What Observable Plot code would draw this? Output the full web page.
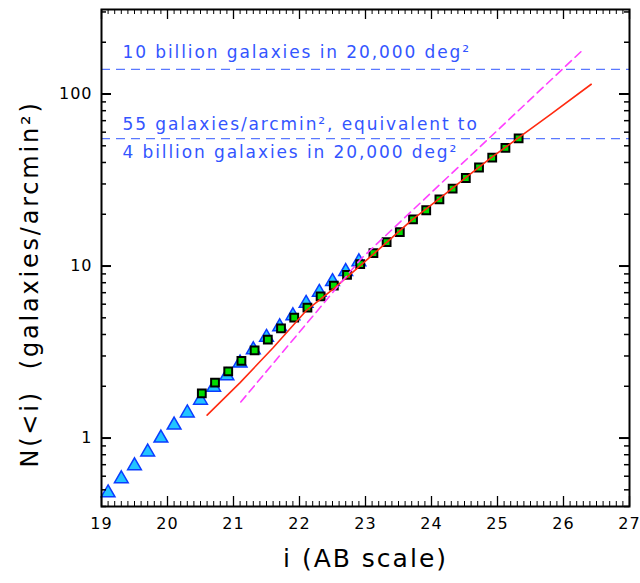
<!DOCTYPE html>
<html>
<head>
<meta charset="utf-8">
<script src="https://cdn.jsdelivr.net/npm/d3@7"></script>
<script src="https://cdn.jsdelivr.net/npm/@observablehq/plot@0.6"></script>
<style>
  html, body { margin: 0; padding: 0; background: #fff; }
  #chart svg { display: block; }
</style>
</head>
<body>
<div id="chart"></div>
<script>
// ---- data ----
const triMag = [19.1, 19.3, 19.5, 19.7, 19.9, 20.1, 20.3, 20.5, 20.7, 20.9,
                21.1, 21.3, 21.5, 21.7, 21.9, 22.1, 22.3, 22.5, 22.7, 22.9];
const triN   = [0.48, 0.58, 0.69, 0.83, 1.0, 1.19, 1.40, 1.66, 1.97, 2.30,
                2.73, 3.26, 3.85, 4.44, 5.14, 6.07, 7.03, 8.12, 9.29, 10.6];

const sqMag = [20.52, 20.72, 20.92, 21.12, 21.32, 21.52, 21.72, 21.92, 22.12, 22.32,
               22.52, 22.72, 22.92, 23.12, 23.32, 23.52, 23.72, 23.92, 24.12, 24.32,
               24.52, 24.72, 24.92, 25.12, 25.32];
const sqN   = [1.82, 2.10, 2.44, 2.81, 3.23, 3.73, 4.34, 5.01, 5.73, 6.67,
               7.70, 8.89, 10.25, 11.9, 13.77, 15.74, 18.7, 21.1, 24.4, 28.2,
               32.5, 37.4, 42.7, 48.6, 55.2];

const redMag = [20.6, 21.1, 21.6, 22.1, 22.5, 22.9, 23.3, 23.7, 24.1, 24.5, 24.9, 25.3, 25.8, 26.42];
const redN   = [1.36, 2.10, 3.35, 5.5, 7.3, 9.9, 13.5, 18.5, 24.3, 32.2, 42.5, 55, 76, 114];

const magMag = [21.11, 22.93, 26.31];
const magN   = [1.62, 11.0, 183];

const refLevels = [138.9, 55];
const refTexts = ["10 billion galaxies in 20,000 deg²",
                  "55 galaxies/arcmin², equivalent to",
                  "4 billion galaxies in 20,000 deg²"];

const xTicks = [19, 20, 21, 22, 23, 24, 25, 26, 27];
const yTicks = [1, 10, 100];
const yMinor = [0.4, 0.5, 0.6, 0.7, 0.8, 0.9, 2, 3, 4, 5, 6, 7, 8, 9,
                20, 30, 40, 50, 60, 70, 80, 90, 200, 300];
const xMinor = d3.range(190, 271).map(d => d / 10).filter(d => !xTicks.includes(d));

const xLabel = "i (AB scale)";
const yLabel = "N(<i)  (galaxies/arcmin²)";

// ---- layout ----
const W = 640, H = 583;
const mL = 101, mR = 11, mT = 9, mB = 77;
const innerH = H - mT - mB, innerW = W - mL - mR;
const majLen = 10, minLen = 5;

const tri = triMag.map((m, i) => ({m, n: triN[i]}));
const sq = sqMag.map((m, i) => ({m, n: sqN[i]}));
const red = redMag.map((m, i) => ({m, n: redN[i]}));
const mag = magMag.map((m, i) => ({m, n: magN[i]}));

const textBlue = "#3355ff";
const font = "DejaVu Sans, sans-serif";

const chart = Plot.plot({
  width: W, height: H,
  marginLeft: mL, marginRight: mR, marginTop: mT, marginBottom: mB,
  style: {fontFamily: font, fontSize: "16px", color: "#000", background: "#fff"},
  x: {domain: [19, 27], axis: null},
  y: {type: "log", domain: [0.4, 310], axis: null},
  marks: [
    Plot.ruleY(refLevels, {y: d => d, stroke: "#5a78ff", strokeWidth: 1.2, strokeDasharray: "9,6"}),
    Plot.dot(tri, {x: "m", y: "n", symbol: "triangle", r: 5.1, fill: "#22c4ff", stroke: "#0a3cff", strokeWidth: 1.5}),
    Plot.dot(sq, {x: "m", y: "n", symbol: "square", r: 4.4, fill: "#00dd00", stroke: "#000", strokeWidth: 2}),
    Plot.line(red, {x: "m", y: "n", stroke: "#ff2a10", strokeWidth: 1.6}),
    Plot.line(mag, {x: "m", y: "n", stroke: "#ff40ff", strokeWidth: 1.6, strokeDasharray: "8,5"}),
    // ticks (inward, all four sides)
    Plot.tickX(xTicks, {x: d => d, insetTop: innerH - majLen, stroke: "#000", strokeWidth: 1.3}),
    Plot.tickX(xMinor, {x: d => d, insetTop: innerH - minLen, stroke: "#000", strokeWidth: 1}),
    Plot.tickX(xTicks, {x: d => d, insetBottom: innerH - majLen, stroke: "#000", strokeWidth: 1.3}),
    Plot.tickX(xMinor, {x: d => d, insetBottom: innerH - minLen, stroke: "#000", strokeWidth: 1}),
    Plot.tickY(yTicks, {y: d => d, insetRight: innerW - majLen, stroke: "#000", strokeWidth: 2}),
    Plot.tickY(yMinor, {y: d => d, insetRight: innerW - minLen, stroke: "#000", strokeWidth: 1.5}),
    Plot.tickY(yTicks, {y: d => d, insetLeft: innerW - majLen, stroke: "#000", strokeWidth: 2}),
    Plot.tickY(yMinor, {y: d => d, insetLeft: innerW - minLen, stroke: "#000", strokeWidth: 1.5}),
    Plot.frame({stroke: "#000", strokeWidth: 2}),
    // axis tick labels
    Plot.axisX(xTicks, {anchor: "bottom", tickSize: 0, tickPadding: 11, tickFormat: d => String(d), fontSize: 16, label: null}),
    Plot.axisY(yTicks, {anchor: "left", tickSize: 0, tickPadding: 9, tickFormat: d => String(d), fontSize: 16, label: null}),
    // axis titles
    Plot.text([xLabel], {frameAnchor: "bottom", dy: 52, fontSize: 25, text: d => d, textAnchor: "middle", lineAnchor: "middle"}),
    Plot.text([yLabel], {frameAnchor: "left", dx: -71, dy: 26, rotate: -90, fontSize: 24, text: d => d, textAnchor: "middle", lineAnchor: "middle"}),
    // annotations
    Plot.text([refTexts[0]], {frameAnchor: "top-left", dx: 21, dy: 43, text: d => d, textAnchor: "start", lineAnchor: "middle", fill: textBlue, fontSize: 17}),
    Plot.text([refTexts[1]], {frameAnchor: "top-left", dx: 21, dy: 115, text: d => d, textAnchor: "start", lineAnchor: "middle", fill: textBlue, fontSize: 17}),
    Plot.text([refTexts[2]], {frameAnchor: "top-left", dx: 21, dy: 143, text: d => d, textAnchor: "start", lineAnchor: "middle", fill: textBlue, fontSize: 17})
  ]
});

document.getElementById("chart").appendChild(chart);
const svg = d3.select(chart);
svg.selectAll("text").attr("letter-spacing", "1px");
svg.selectAll("text").filter(function() { return this.getAttribute("fill") === textBlue || this.parentNode.getAttribute("fill") === textBlue; }).attr("letter-spacing", "1.9px");
svg.selectAll("text").filter(function() { return this.textContent === xLabel; }).attr("letter-spacing", "2px");
svg.selectAll("text").filter(function() { return this.textContent === yLabel; }).attr("letter-spacing", "2.8px");
</script>
</body>
</html>
